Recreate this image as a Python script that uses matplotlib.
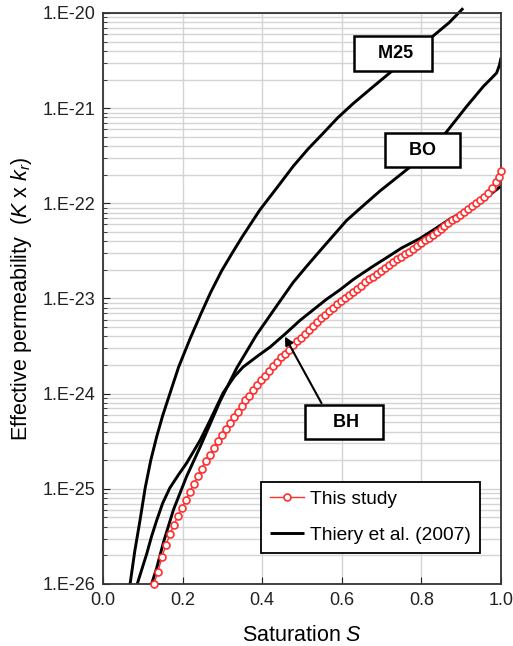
import numpy as np
import matplotlib
matplotlib.use("Agg")
import matplotlib.pyplot as plt

plt.rcParams['font.family'] = ['Liberation Sans', 'DejaVu Sans']
plt.rcParams['mathtext.fontset'] = 'custom'
plt.rcParams['mathtext.rm'] = 'Liberation Sans'
plt.rcParams['mathtext.it'] = 'Liberation Sans:italic'

# ---- data (log10 of effective permeability) ----
# Thiery et al. (2007) curves
s_m25 = [0.068, 0.080, 0.093, 0.106, 0.120, 0.135, 0.150, 0.168, 0.190, 0.219,
         0.244, 0.270, 0.298, 0.325, 0.350, 0.394, 0.440, 0.478, 0.515, 0.554,
         0.590, 0.629, 0.680, 0.729, 0.780, 0.830, 0.870, 0.905]
k_m25 = [-26.0, -25.65, -25.33, -24.99, -24.70, -24.45, -24.23, -24.0, -23.72, -23.42,
         -23.18, -22.94, -22.71, -22.52, -22.35, -22.07, -21.82, -21.61, -21.43, -21.26,
         -21.10, -20.95, -20.77, -20.60, -20.42, -20.24, -20.10, -19.95]

s_bo = [0.122, 0.135, 0.152, 0.177, 0.210, 0.244, 0.269, 0.294, 0.336, 0.386,
        0.436, 0.478, 0.512, 0.545, 0.612, 0.655, 0.696, 0.771, 0.820, 0.863,
        0.914, 0.956, 0.975, 0.989, 0.996, 1.0]
k_bo = [-26.0, -25.83, -25.56, -25.22, -24.87, -24.56, -24.32, -24.08, -23.73, -23.38,
        -23.08, -22.83, -22.66, -22.50, -22.18, -22.02, -21.87, -21.62, -21.43, -21.25,
        -20.98, -20.77, -20.69, -20.63, -20.55, -20.47]

s_bh = [0.086, 0.098, 0.110, 0.122, 0.135, 0.150, 0.168, 0.190, 0.210, 0.244,
        0.269, 0.302, 0.330, 0.352, 0.390, 0.420, 0.461, 0.495, 0.561, 0.595,
        0.629, 0.679, 0.713, 0.750, 0.796, 0.830, 0.870, 0.930, 0.972, 1.0]
k_bh = [-26.0, -25.84, -25.68, -25.50, -25.33, -25.15, -24.99, -24.85, -24.73, -24.49,
        -24.28, -23.99, -23.82, -23.72, -23.60, -23.51, -23.36, -23.23, -23.01, -22.91,
        -22.80, -22.66, -22.57, -22.47, -22.37, -22.28, -22.17, -22.03, -21.91, -21.82]

# This study
s_red = [0.128, 0.138, 0.148, 0.158, 0.168, 0.178, 0.188, 0.198, 0.208, 0.218,
         0.228, 0.238, 0.248, 0.258, 0.268, 0.278, 0.288, 0.298, 0.308, 0.318,
         0.328, 0.338, 0.348, 0.358, 0.368, 0.378, 0.388, 0.398, 0.408, 0.418,
         0.428, 0.438, 0.448, 0.458, 0.468, 0.478, 0.488, 0.498, 0.508, 0.518,
         0.528, 0.538, 0.548, 0.558, 0.568, 0.578, 0.588, 0.598, 0.608, 0.618,
         0.628, 0.638, 0.648, 0.658, 0.668, 0.678, 0.688, 0.698, 0.708, 0.718,
         0.728, 0.738, 0.748, 0.758, 0.768, 0.778, 0.788, 0.798, 0.808, 0.818,
         0.828, 0.838, 0.848, 0.858, 0.868, 0.878, 0.888, 0.898, 0.908, 0.918,
         0.928, 0.938, 0.948, 0.958, 0.968, 0.978, 0.988, 0.995, 1.000]
k_red = [-26.00, -25.87, -25.72, -25.59, -25.48, -25.38, -25.29, -25.20, -25.12, -25.03,
         -24.95, -24.87, -24.79, -24.71, -24.64, -24.57, -24.50, -24.43, -24.37, -24.31,
         -24.25, -24.19, -24.13, -24.07, -24.02, -23.96, -23.91, -23.86, -23.81, -23.76,
         -23.71, -23.67, -23.62, -23.58, -23.54, -23.49, -23.45, -23.41, -23.37, -23.33,
         -23.29, -23.25, -23.21, -23.17, -23.13, -23.10, -23.06, -23.03, -22.99, -22.96,
         -22.93, -22.90, -22.87, -22.83, -22.80, -22.77, -22.74, -22.71, -22.68, -22.65,
         -22.62, -22.59, -22.56, -22.53, -22.51, -22.48, -22.45, -22.42, -22.39, -22.36,
         -22.33, -22.30, -22.27, -22.24, -22.21, -22.18, -22.15, -22.12, -22.09, -22.06,
         -22.03, -22.00, -21.97, -21.93, -21.89, -21.84, -21.78, -21.72, -21.66]

ytick_vals = [1e-26, 1e-25, 1e-24, 1e-23, 1e-22, 1e-21, 1e-20]
ytick_labels = ['1.E-26', '1.E-25', '1.E-24', '1.E-23', '1.E-22', '1.E-21', '1.E-20']
xtick_vals = [0.0, 0.2, 0.4, 0.6, 0.8, 1.0]

fig = plt.figure(figsize=(5.13, 6.46), dpi=100)
ax = fig.add_axes([0.2008, 0.0960, 0.7758, 0.8839])

black_kw = dict(color='black', lw=2.1, solid_capstyle='butt', solid_joinstyle='round')
ax.plot(s_m25, 10 ** np.array(k_m25), clip_on=False, **black_kw)
ax.plot(s_bo, 10 ** np.array(k_bo), **black_kw)
ax.plot(s_bh, 10 ** np.array(k_bh), label='Thiery et al. (2007)', **black_kw)
ax.plot(s_red, 10 ** np.array(k_red), color='#ff3030', lw=1.0, marker='o',
        markersize=5, markerfacecolor='white', markeredgecolor='#ff3030',
        markeredgewidth=1.2, clip_on=False, label='This study', zorder=4)

ax.set_yscale('log')
ax.set_xlim(0, 1)
ax.set_ylim(1e-26, 1e-20)
ax.set_yticks(ytick_vals)
ax.set_yticklabels(ytick_labels)
ax.set_xticks(xtick_vals)
ax.set_xticklabels(['%.1f' % v for v in xtick_vals])
ax.yaxis.set_minor_formatter(matplotlib.ticker.NullFormatter())

ax.grid(True, which='major', color='#d4d4d4', lw=1.0)
ax.grid(True, which='minor', axis='y', color='#d4d4d4', lw=1.0)
ax.set_axisbelow(True)
ax.tick_params(which='both', direction='in', labelsize=13, colors='#222222', pad=5.5)
ax.tick_params(which='major', length=5)
ax.tick_params(which='minor', length=3)
for sp in ax.spines.values():
    sp.set_color('#333333')
    sp.set_linewidth(1.3)

ax.set_xlabel('Saturation $S$', fontsize=15.5, labelpad=12)
ax.set_ylabel('Effective permeability  ($K$ x $k_r$)', fontsize=15.5, labelpad=6)

box = dict(boxstyle='square,pad=0.48', fc='white', ec='black', lw=1.8)
ax.text(0.729, 10 ** -20.425, '   M25  ', fontsize=13, fontweight='bold',
        ha='center', va='center', bbox=box, zorder=5)
ax.text(0.803, 10 ** -21.44, '   BO   ', fontsize=13, fontweight='bold',
        ha='center', va='center', bbox=box, zorder=5)
ax.text(0.605, 10 ** -24.30, '    BH   ', fontsize=13, fontweight='bold',
        ha='center', va='center', bbox=box, zorder=5)
ax.annotate('', xy=(0.457, 10 ** -23.40), xytext=(0.549, 10 ** -24.10),
            arrowprops=dict(arrowstyle='-|>', color='black', lw=1.5,
                            mutation_scale=12, shrinkA=0, shrinkB=0), zorder=5)

h, l = ax.get_legend_handles_labels()
leg = ax.legend([h[1], h[0]], [l[1], l[0]], loc='lower left',
                bbox_to_anchor=(0.397, 0.054), borderaxespad=0, fontsize=13.8,
                frameon=True, fancybox=False, edgecolor='black', framealpha=1,
                handlelength=1.75, handletextpad=0.3, borderpad=0.48,
                labelspacing=0.96)
leg.get_frame().set_linewidth(1.3)

fig.savefig('out.png', dpi=100)
